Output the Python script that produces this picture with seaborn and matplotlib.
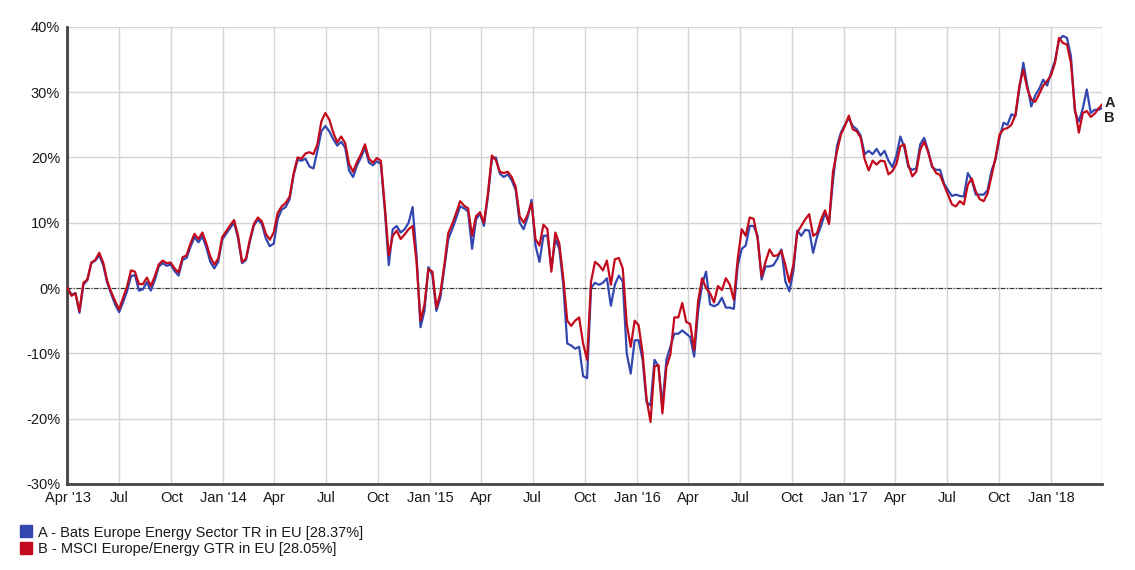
import numpy as np
import pandas as pd
import matplotlib
matplotlib.use("Agg")
import matplotlib.pyplot as plt
import matplotlib.dates as mdates
from matplotlib.lines import Line2D
import seaborn as sns

start_date = "2013-04-01"

series_b = [
    0.0, -1.2, -0.8, -3.5, 0.8, 1.3, 3.9, 4.3, 5.4, 3.9,
    1.1, -0.6, -2.0, -3.3, -1.5, 0.2, 2.7, 2.5, 0.6, 0.6,
    1.6, 0.3, 1.8, 3.6, 4.2, 3.8, 3.9, 3.0, 2.4, 4.7,
    5.0, 6.8, 8.3, 7.5, 8.5, 6.8, 4.8, 3.6, 4.5, 7.8,
    8.7, 9.6, 10.4, 8.0, 4.0, 4.5, 7.5, 9.8, 10.8, 10.2,
    8.3, 7.4, 8.5, 11.5, 12.5, 13.0, 14.0, 17.5, 20.0, 19.8,
    20.6, 20.8, 20.5, 22.0, 25.5, 26.8, 25.8, 23.8, 22.3, 23.2,
    22.2, 19.0, 17.8, 19.3, 20.5, 22.0, 19.8, 19.2, 19.9, 19.5,
    12.5, 5.0, 8.0, 8.8, 7.5, 8.2, 9.0, 9.5, 4.0, -5.0,
    -2.5, 2.9, 2.5, -3.0, -0.8, 3.5, 8.4, 9.8, 11.5, 13.3,
    12.6, 12.2, 8.0, 11.0, 11.6, 10.0, 14.5, 20.3, 19.6, 17.8,
    17.6, 17.8, 17.0, 15.5, 11.0, 10.0, 11.2, 13.0, 7.5, 6.5,
    9.7, 9.0, 2.5, 8.5, 6.8, 1.5, -5.0, -5.8, -5.0, -4.5,
    -8.5, -11.0, 1.0, 4.0, 3.5, 2.7, 4.2, 0.5, 4.4, 4.6,
    3.0, -5.5, -9.0, -5.0, -5.7, -10.0, -17.0, -20.5, -12.0, -11.8,
    -19.2, -12.1, -10.2, -4.5, -4.5, -2.3, -5.2, -5.5, -9.5, -2.0,
    1.5, 0.0, -0.8, -2.2, 0.3, -0.3, 1.5, 0.5, -1.8, 4.5,
    9.0, 8.0, 10.8, 10.6, 7.5, 1.8, 4.0, 5.9, 4.9, 5.0,
    5.7, 3.5, 0.9, 3.5, 8.5, 9.5, 10.5, 11.3, 8.0, 8.4,
    10.5, 11.9, 9.8, 17.8, 20.9, 23.5, 24.8, 26.4, 24.3, 24.0,
    23.0, 19.7, 18.0, 19.5, 18.9, 19.5, 19.4, 17.4, 17.9, 19.0,
    21.7, 22.0, 18.9, 17.1, 17.8, 21.2, 22.4, 20.8, 18.7, 17.6,
    17.3, 15.8, 14.3, 12.8, 12.5, 13.3, 12.8, 15.8, 16.8, 14.8,
    13.6, 13.3, 14.5, 17.2, 20.0, 23.5, 24.3, 24.5, 25.0, 26.5,
    31.0, 33.4, 30.5, 28.9, 28.5, 29.7, 31.0, 31.7, 32.6, 34.5,
    38.3, 37.5, 37.3, 34.5, 27.5, 23.8, 26.8, 27.1, 26.2, 26.7,
    27.5, 28.2,
]

series_a = [
    0.0, -1.0, -0.8, -3.8, 0.5, 1.2, 3.8, 4.2, 5.0, 3.5,
    0.8, -0.9, -2.5, -3.7, -2.2, -0.5, 1.8, 2.0, -0.4, -0.2,
    0.9, -0.4, 1.2, 3.3, 3.8, 3.4, 3.6, 2.6, 1.9, 4.3,
    4.6, 6.3, 7.8, 7.0, 7.9, 6.2, 4.0, 3.0, 4.0, 7.4,
    8.3, 9.2, 10.0, 7.6, 3.8, 4.3, 7.2, 9.6, 10.5, 9.8,
    7.6, 6.4, 6.8, 10.6, 12.0, 12.4, 13.6, 17.3, 19.6, 19.5,
    19.8, 18.6, 18.3, 21.0, 24.0, 24.8, 24.0, 22.8, 21.8, 22.4,
    21.5, 18.0, 17.0, 18.8, 20.0, 21.5, 19.2, 18.8, 19.4, 19.0,
    12.0, 3.5, 9.0, 9.5, 8.5, 9.0, 10.0, 12.4, 5.0, -6.0,
    -3.5, 3.2, 2.0, -3.5, -1.5, 3.0, 7.5, 9.0, 10.7, 12.5,
    12.2, 11.7, 6.0, 10.5, 11.4, 9.5, 14.0, 19.8, 20.0, 17.5,
    17.0, 17.4, 16.5, 15.0, 10.0, 9.0, 10.8, 13.5, 6.5, 4.0,
    8.0, 8.0, 3.0, 7.5, 6.0, 0.5, -8.5, -8.8, -9.3, -9.0,
    -13.5, -13.8, 0.0, 0.8, 0.5, 0.8, 1.5, -2.7, 0.5, 1.9,
    1.0, -10.0, -13.1, -8.0, -8.0, -11.0, -17.5, -18.0, -11.0, -12.0,
    -18.0, -11.0, -9.0, -7.0, -7.0, -6.5, -7.0, -7.5, -10.5, -3.5,
    0.5, 2.5, -2.5, -2.8, -2.5, -1.5, -3.0, -3.0, -3.2, 3.5,
    6.0, 6.5, 9.5, 9.5, 8.0, 1.3, 3.3, 3.3, 3.5, 4.5,
    5.9, 1.0, -0.5, 2.5, 8.8, 8.0, 8.9, 8.8, 5.4, 7.9,
    9.5, 11.5, 10.0, 16.4, 21.7, 23.8, 25.0, 26.0, 24.8, 24.3,
    23.3, 20.5, 21.0, 20.5, 21.3, 20.3, 21.0, 19.5, 18.5, 20.3,
    23.2, 21.5, 18.5, 18.1, 18.3, 22.0, 23.0, 21.0, 18.5, 18.1,
    18.1, 16.0, 15.0, 14.1, 14.3, 14.1, 14.0, 17.6, 16.5, 14.3,
    14.3, 14.3, 15.0, 18.0, 19.7, 23.0, 25.3, 25.0, 26.6, 26.3,
    30.5, 34.5, 31.0, 27.8, 29.5, 30.5, 31.9, 31.0, 33.0, 34.8,
    38.0, 38.6, 38.3, 35.5, 27.0, 25.5, 27.5, 30.4, 26.8, 27.3,
    27.3, 27.6,
]

legend_labels = [
    "A - Bats Europe Energy Sector TR in EU [28.37%]",
    "B - MSCI Europe/Energy GTR in EU [28.05%]",
]
end_labels = ["A", "B"]
tick_dates = ["2013-04-01", "2013-07-01", "2013-10-01", "2014-01-01", "2014-04-01",
              "2014-07-01", "2014-10-01", "2015-01-01", "2015-04-01", "2015-07-01",
              "2015-10-01", "2016-01-01", "2016-04-01", "2016-07-01", "2016-10-01",
              "2017-01-01", "2017-04-01", "2017-07-01", "2017-10-01", "2018-01-01"]
tick_labels = ["Apr '13", "Jul", "Oct", "Jan '14", "Apr", "Jul", "Oct", "Jan '15", "Apr",
               "Jul", "Oct", "Jan '16", "Apr", "Jul", "Oct", "Jan '17", "Apr", "Jul", "Oct",
               "Jan '18"]
y_ticks = [-30, -20, -10, 0, 10, 20, 30, 40]

color_a = "#3347b0"
color_b = "#c20a1c"

dates = pd.date_range(start_date, periods=len(series_b), freq="7D")
df = pd.DataFrame({"date": dates, "A": series_a, "B": series_b})

sns.set_theme(style="white")
plt.rcParams["font.family"] = ["Liberation Sans", "DejaVu Sans"]

fig = plt.figure(figsize=(11.35, 5.7), dpi=100)
ax = fig.add_axes([0.059, 0.151, 0.912, 0.802])

x0 = pd.Timestamp("2013-03-31")
x1 = pd.Timestamp("2018-04-01")
ax.set_xlim(x0, x1)
ax.set_ylim(-30, 40)

# grid
for yv in y_ticks:
    ax.axhline(yv, color="#d4d4d4", lw=1.0, zorder=0)
for td in tick_dates + ["2018-04-01"]:
    ax.axvline(pd.Timestamp(td), color="#d4d4d4", lw=1.0, zorder=0)
ax.axhline(0, color="#333333", lw=0.8, linestyle=(0, (4, 1.5, 1, 1.5)), zorder=1)

sns.lineplot(data=df, x="date", y="A", ax=ax, color=color_a, lw=1.6, legend=False, zorder=3)
sns.lineplot(data=df, x="date", y="B", ax=ax, color=color_b, lw=1.6, legend=False, zorder=4)

ax.set_xlabel("")
ax.set_ylabel("")
ax.set_yticks(y_ticks)
ax.set_yticklabels([f"{v}%" for v in y_ticks])
ax.set_xticks([pd.Timestamp(t) for t in tick_dates])
ax.set_xticklabels(tick_labels)
ax.tick_params(axis="both", which="major", labelsize=10.5, colors="#222222",
               length=4, width=1.2, direction="out", pad=1)
for lbl in ax.get_xticklabels() + ax.get_yticklabels():
    lbl.set_color("#1a1a1a")

for s in ["top", "right"]:
    ax.spines[s].set_visible(False)
for s in ["left", "bottom"]:
    ax.spines[s].set_color("#444444")
    ax.spines[s].set_linewidth(2.0)

# end labels
ax.text(1.002, (28.3 + 30) / 70, end_labels[0], transform=ax.transAxes, fontsize=10.5,
        fontweight="bold", color="#222222", ha="left", va="center")
ax.text(1.002, (26.0 + 30) / 70, end_labels[1], transform=ax.transAxes, fontsize=10.5,
        fontweight="bold", color="#222222", ha="left", va="center")

handles = [Line2D([0], [0], marker="s", color="none", markerfacecolor=color_a,
                  markeredgecolor=color_a, markersize=8),
           Line2D([0], [0], marker="s", color="none", markerfacecolor=color_b,
                  markeredgecolor=color_b, markersize=8)]
fig.legend(handles, legend_labels, loc="upper left", bbox_to_anchor=(0.018, 0.078),
           frameon=False, fontsize=10.5, handlelength=0.8, handletextpad=0.4,
           labelspacing=0.2, borderaxespad=0, borderpad=0, labelcolor="#1a1a1a")

fig.savefig("out.png", dpi=100)
